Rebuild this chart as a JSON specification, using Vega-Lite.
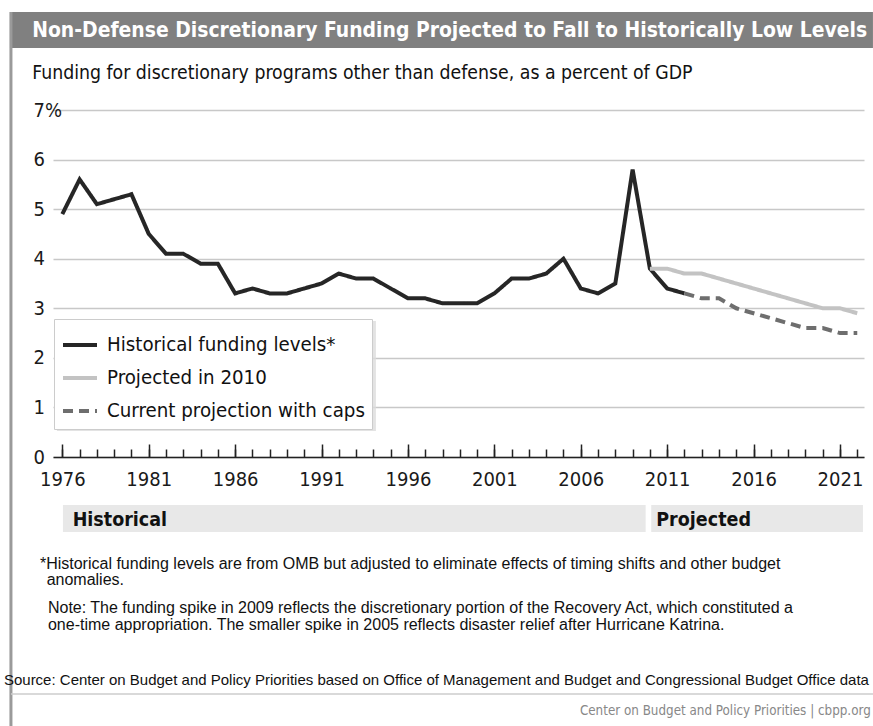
{
  "$schema": "https://vega.github.io/schema/vega-lite/v6.json",
  "width": 811,
  "height": 347,
  "autosize": "none",
  "padding": {"left": 53, "top": 110, "right": 9, "bottom": 269},
  "background": "white",
  "config": {
    "view": {"stroke": null},
    "font": "DejaVu Sans Condensed, Liberation Sans, sans-serif",
    "text": {"font": "DejaVu Sans Condensed, Liberation Sans, sans-serif"}
  },
  "resolve": {"axis": {"x": "independent", "y": "independent"}},
  "layer": [
    {
      "data": {"values": [{}]},
      "mark": {"type": "rect", "color": "#808080"},
      "encoding": {
        "x": {"datum": 1972.968, "type": "quantitative", "axis": null},
        "x2": {"datum": 2022.908},
        "y": {"datum": 8.977, "type": "quantitative", "axis": null},
        "y2": {"datum": 8.251}
      }
    },
    {
      "data": {"values": [{}]},
      "mark": {"type": "rule", "color": "#9a9a9a", "strokeWidth": 3},
      "encoding": {
        "x": {"datum": 1973.026, "type": "quantitative", "axis": null},
        "y": {"datum": 8.977, "type": "quantitative", "axis": null},
        "y2": {"datum": -5.5}
      }
    },
    {
      "data": {"values": [{}]},
      "mark": {"type": "rule", "color": "#cccccc", "strokeWidth": 1.5},
      "encoding": {
        "x": {"datum": 1973.026, "type": "quantitative", "axis": null},
        "x2": {"datum": 2022.908},
        "y": {"datum": -4.781, "type": "quantitative", "axis": null}
      }
    },
    {
      "data": {"values": [{}]},
      "mark": {"type": "rect", "color": "#dcdcdc", "opacity": 0.8},
      "encoding": {
        "x": {"datum": 1975.688, "type": "quantitative", "axis": null},
        "x2": {"datum": 1994.147},
        "y": {"datum": 2.743, "type": "quantitative", "axis": null},
        "y2": {"datum": 0.524}
      }
    },
    {
      "data": {"values": [{}]},
      "mark": {"type": "rect", "color": "#e8e8e8"},
      "encoding": {
        "x": {"datum": 1976.035, "type": "quantitative", "axis": {"orient": "bottom", "values": [1976, 1981, 1986, 1991, 1996, 2001, 2006, 2011, 2016, 2021], "labels": false, "domain": false, "grid": false, "ticks": true, "tickSize": -13, "tickWidth": 1.5, "tickColor": "#222222", "title": null}},
        "x2": {"datum": 2009.754},
        "y": {"datum": -0.968, "type": "quantitative", "axis": null},
        "y2": {"datum": -1.513}
      }
    },
    {
      "data": {"values": [{}]},
      "mark": {"type": "rect", "color": "#e8e8e8"},
      "encoding": {
        "x": {"datum": 2010.078, "type": "quantitative", "axis": {"orient": "bottom", "values": [1976, 1977, 1978, 1979, 1980, 1981, 1982, 1983, 1984, 1985, 1986, 1987, 1988, 1989, 1990, 1991, 1992, 1993, 1994, 1995, 1996, 1997, 1998, 1999, 2000, 2001, 2002, 2003, 2004, 2005, 2006, 2007, 2008, 2009, 2010, 2011, 2012, 2013, 2014, 2015, 2016, 2017, 2018, 2019, 2020, 2021, 2022], "labels": false, "domain": false, "grid": false, "ticks": true, "tickSize": -8, "tickWidth": 1.5, "tickColor": "#222222", "title": null}},
        "x2": {"datum": 2022.328},
        "y": {"datum": -0.968, "type": "quantitative", "axis": null},
        "y2": {"datum": -1.513}
      }
    },
    {
      "data": {"values": [{}]},
      "mark": {"type": "text", "text": "Non-Defense Discretionary Funding Projected to Fall to Historically Low Levels", "align": "left", "baseline": "alphabetic", "fontSize": 20.9, "fontWeight": "bold", "color": "white"},
      "encoding": {
        "x": {"datum": 1974.258, "type": "quantitative", "axis": null},
        "y": {"datum": 8.473, "type": "quantitative", "axis": null}
      }
    },
    {
      "data": {"values": [{}]},
      "mark": {"type": "text", "text": "Funding for discretionary programs other than defense, as a percent of GDP", "align": "left", "baseline": "alphabetic", "fontSize": 19.3, "color": "#111111"},
      "encoding": {
        "x": {"datum": 1974.258, "type": "quantitative", "axis": null},
        "y": {"datum": 7.625, "type": "quantitative", "axis": null}
      }
    },
    {
      "data": {"values": [{}]},
      "mark": {"type": "text", "text": "Historical", "align": "left", "baseline": "alphabetic", "fontSize": 19.5, "fontWeight": "bold", "color": "#111111"},
      "encoding": {
        "x": {"datum": 1976.596, "type": "quantitative", "axis": null},
        "y": {"datum": -1.392, "type": "quantitative", "axis": null}
      }
    },
    {
      "data": {"values": [{}]},
      "mark": {"type": "text", "text": "Projected", "align": "left", "baseline": "alphabetic", "fontSize": 19.5, "fontWeight": "bold", "color": "#111111"},
      "encoding": {
        "x": {"datum": 2010.369, "type": "quantitative", "axis": null},
        "y": {"datum": -1.392, "type": "quantitative", "axis": null}
      }
    },
    {
      "data": {"values": [{}]},
      "mark": {"type": "text", "text": "*Historical funding levels are from OMB but adjusted to eliminate effects of timing shifts and other budget", "align": "left", "baseline": "alphabetic", "font": "Liberation Sans", "fontSize": 16, "color": "#111111"},
      "encoding": {
        "x": {"datum": 1974.704, "type": "quantitative", "axis": null},
        "y": {"datum": -2.259, "type": "quantitative", "axis": null}
      }
    },
    {
      "data": {"values": [{}]},
      "mark": {"type": "text", "text": "anomalies.", "align": "left", "baseline": "alphabetic", "font": "Liberation Sans", "fontSize": 16, "color": "#111111"},
      "encoding": {
        "x": {"datum": 1975.092, "type": "quantitative", "axis": null},
        "y": {"datum": -2.582, "type": "quantitative", "axis": null}
      }
    },
    {
      "data": {"values": [{}]},
      "mark": {"type": "text", "text": ["Note: The funding spike in 2009 reflects the discretionary portion of the Recovery Act, which constituted a", "one-time appropriation. The smaller spike in 2005 reflects disaster relief after Hurricane Katrina."], "align": "left", "baseline": "alphabetic", "font": "Liberation Sans", "fontSize": 16, "lineHeight": 16.5, "color": "#111111"},
      "encoding": {
        "x": {"datum": 1975.167, "type": "quantitative", "axis": null},
        "y": {"datum": -3.147, "type": "quantitative", "axis": null}
      }
    },
    {
      "data": {"values": [{}]},
      "mark": {"type": "text", "text": "Source: Center on Budget and Policy Priorities based on Office of Management and Budget and Congressional Budget Office data", "align": "left", "baseline": "alphabetic", "font": "Liberation Sans", "fontSize": 15, "color": "#111111"},
      "encoding": {
        "x": {"datum": 1972.621, "type": "quantitative", "axis": null},
        "y": {"datum": -4.599, "type": "quantitative", "axis": null}
      }
    },
    {
      "data": {"values": [{}]},
      "mark": {"type": "text", "text": "Center on Budget and Policy Priorities | cbpp.org", "align": "left", "baseline": "alphabetic", "fontSize": 13.3, "color": "#888888"},
      "encoding": {
        "x": {"datum": 2005.95, "type": "quantitative", "axis": null},
        "y": {"datum": -5.205, "type": "quantitative", "axis": null}
      }
    },
    {
      "data": {
        "values": [
          {"year": 1976, "value": 4.9, "series": "Historical funding levels*"},
          {"year": 1977, "value": 5.6, "series": "Historical funding levels*"},
          {"year": 1978, "value": 5.1, "series": "Historical funding levels*"},
          {"year": 1979, "value": 5.2, "series": "Historical funding levels*"},
          {"year": 1980, "value": 5.3, "series": "Historical funding levels*"},
          {"year": 1981, "value": 4.5, "series": "Historical funding levels*"},
          {"year": 1982, "value": 4.1, "series": "Historical funding levels*"},
          {"year": 1983, "value": 4.1, "series": "Historical funding levels*"},
          {"year": 1984, "value": 3.9, "series": "Historical funding levels*"},
          {"year": 1985, "value": 3.9, "series": "Historical funding levels*"},
          {"year": 1986, "value": 3.3, "series": "Historical funding levels*"},
          {"year": 1987, "value": 3.4, "series": "Historical funding levels*"},
          {"year": 1988, "value": 3.3, "series": "Historical funding levels*"},
          {"year": 1989, "value": 3.3, "series": "Historical funding levels*"},
          {"year": 1990, "value": 3.4, "series": "Historical funding levels*"},
          {"year": 1991, "value": 3.5, "series": "Historical funding levels*"},
          {"year": 1992, "value": 3.7, "series": "Historical funding levels*"},
          {"year": 1993, "value": 3.6, "series": "Historical funding levels*"},
          {"year": 1994, "value": 3.6, "series": "Historical funding levels*"},
          {"year": 1995, "value": 3.4, "series": "Historical funding levels*"},
          {"year": 1996, "value": 3.2, "series": "Historical funding levels*"},
          {"year": 1997, "value": 3.2, "series": "Historical funding levels*"},
          {"year": 1998, "value": 3.1, "series": "Historical funding levels*"},
          {"year": 1999, "value": 3.1, "series": "Historical funding levels*"},
          {"year": 2000, "value": 3.1, "series": "Historical funding levels*"},
          {"year": 2001, "value": 3.3, "series": "Historical funding levels*"},
          {"year": 2002, "value": 3.6, "series": "Historical funding levels*"},
          {"year": 2003, "value": 3.6, "series": "Historical funding levels*"},
          {"year": 2004, "value": 3.7, "series": "Historical funding levels*"},
          {"year": 2005, "value": 4.0, "series": "Historical funding levels*"},
          {"year": 2006, "value": 3.4, "series": "Historical funding levels*"},
          {"year": 2007, "value": 3.3, "series": "Historical funding levels*"},
          {"year": 2008, "value": 3.5, "series": "Historical funding levels*"},
          {"year": 2009, "value": 5.8, "series": "Historical funding levels*"},
          {"year": 2010, "value": 3.8, "series": "Historical funding levels*"},
          {"year": 2011, "value": 3.4, "series": "Historical funding levels*"},
          {"year": 2012, "value": 3.3, "series": "Historical funding levels*"},
          {"year": 2010, "value": 3.8, "series": "Projected in 2010"},
          {"year": 2011, "value": 3.8, "series": "Projected in 2010"},
          {"year": 2012, "value": 3.7, "series": "Projected in 2010"},
          {"year": 2013, "value": 3.7, "series": "Projected in 2010"},
          {"year": 2014, "value": 3.6, "series": "Projected in 2010"},
          {"year": 2015, "value": 3.5, "series": "Projected in 2010"},
          {"year": 2016, "value": 3.4, "series": "Projected in 2010"},
          {"year": 2017, "value": 3.3, "series": "Projected in 2010"},
          {"year": 2018, "value": 3.2, "series": "Projected in 2010"},
          {"year": 2019, "value": 3.1, "series": "Projected in 2010"},
          {"year": 2020, "value": 3.0, "series": "Projected in 2010"},
          {"year": 2021, "value": 3.0, "series": "Projected in 2010"},
          {"year": 2022, "value": 2.9, "series": "Projected in 2010"},
          {"year": 2012, "value": 3.3, "series": "Current projection with caps"},
          {"year": 2013, "value": 3.2, "series": "Current projection with caps"},
          {"year": 2014, "value": 3.2, "series": "Current projection with caps"},
          {"year": 2015, "value": 3.0, "series": "Current projection with caps"},
          {"year": 2016, "value": 2.9, "series": "Current projection with caps"},
          {"year": 2017, "value": 2.8, "series": "Current projection with caps"},
          {"year": 2018, "value": 2.7, "series": "Current projection with caps"},
          {"year": 2019, "value": 2.6, "series": "Current projection with caps"},
          {"year": 2020, "value": 2.6, "series": "Current projection with caps"},
          {"year": 2021, "value": 2.5, "series": "Current projection with caps"},
          {"year": 2022, "value": 2.5, "series": "Current projection with caps"}
        ]
      },
      "mark": {"type": "line", "strokeWidth": 4},
      "encoding": {
        "x": {
          "field": "year", "type": "quantitative",
          "scale": {"domain": [1975.46, 2022.39], "nice": false, "zero": false},
          "axis": {"orient": "bottom", "values": [1976, 1981, 1986, 1991, 1996, 2001, 2006, 2011, 2016, 2021], "format": "d", "title": null, "grid": false, "ticks": false, "domain": true, "domainColor": "#222222", "domainWidth": 1.5, "labelFontSize": 20, "labelColor": "#1a1a1a", "labelPadding": 12, "labelFlush": false, "labelOverlap": false}
        },
        "y": {
          "field": "value", "type": "quantitative",
          "scale": {"domain": [0, 7], "nice": false, "zero": true},
          "axis": {"orient": "left", "values": [0, 1, 2, 3, 4, 5, 6, 7], "labelExpr": "datum.value == 7 ? '7%' : datum.label", "title": null, "grid": true, "gridColor": "#c8c8c8", "gridWidth": 1.5, "domain": false, "ticks": false, "tickSize": 0, "labelAlign": "left", "labelBaseline": "middle", "labelPadding": 20, "labelFontSize": 20, "labelColor": "#1a1a1a"}
        },
        "color": {
          "field": "series", "type": "nominal",
          "scale": {"domain": ["Historical funding levels*", "Projected in 2010", "Current projection with caps"], "range": ["#262626", "#c3c3c3", "#6e6e6e"]},
          "legend": {
            "title": null, "orient": "none", "legendX": 1, "legendY": 209,
            "fillColor": "white", "strokeColor": "#cccccc", "padding": 7, "cornerRadius": 0,
            "symbolType": "stroke", "symbolStrokeWidth": 4, "symbolSize": 1156,
            "labelFontSize": 20.3, "labelColor": "#111111", "labelOffset": 8, "rowPadding": 3, "labelLimit": 400
          }
        },
        "strokeDash": {
          "field": "series", "type": "nominal",
          "scale": {"domain": ["Historical funding levels*", "Projected in 2010", "Current projection with caps"], "range": [[1, 0], [1, 0], [10, 6]]},
          "legend": {
            "title": null, "orient": "none", "legendX": 1, "legendY": 209,
            "fillColor": "white", "strokeColor": "#cccccc", "padding": 7, "cornerRadius": 0,
            "symbolType": "stroke", "symbolStrokeWidth": 4, "symbolSize": 1156,
            "labelFontSize": 20.3, "labelColor": "#111111", "labelOffset": 8, "rowPadding": 3, "labelLimit": 400
          }
        }
      }
    }
  ]
}
